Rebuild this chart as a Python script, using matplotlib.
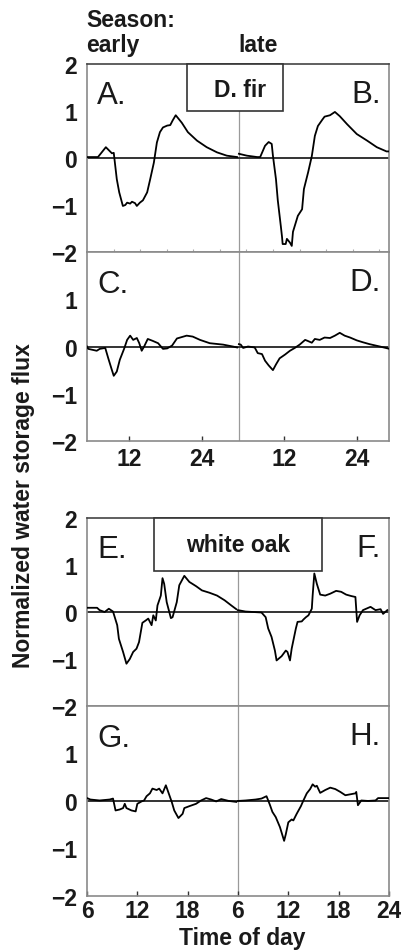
import numpy as np
import matplotlib.pyplot as plt
from matplotlib.patches import Rectangle

plt.rcParams['font.family'] = ['Liberation Sans', 'DejaVu Sans']

# ---- D. fir, early season (A) and late season (B): normalized flux vs hour ----
a_hour = [5.1, 6.9, 8.2, 9.2, 9.5, 10.0, 10.4, 11.0, 11.4, 11.7, 12.2, 12.5, 13.0, 13.3,
          13.8, 14.3, 15.0, 15.5, 16.1, 16.6, 17.1, 17.6, 18.3, 18.8, 19.2, 19.7, 20.7,
          21.7, 23.2, 24.8, 26.5, 28.1, 29.8]
a_flux = [0.02, 0.02, 0.23, 0.10, 0.11, -0.45, -0.73, -1.02, -1.0, -0.95, -0.97, -0.93,
          -0.96, -1.02, -0.95, -0.9, -0.73, -0.45, -0.1, 0.33, 0.55, 0.65, 0.69, 0.7, 0.8,
          0.91, 0.75, 0.55, 0.37, 0.23, 0.12, 0.05, 0.02]

b_hour = [4.5, 5.8, 7.5, 8.0, 8.8, 9.4, 9.9, 10.1, 10.6, 10.9, 11.4, 11.6, 11.7, 12.2,
          12.4, 12.9, 13.2, 13.4, 14.2, 14.9, 15.2, 15.9, 16.5, 17.0, 17.5, 18.2, 18.6,
          19.5, 20.3, 21.1, 22.3, 23.9, 25.6, 27.2, 28.8, 29.3]
b_flux = [0.09, 0.05, 0.02, 0.02, 0.26, 0.34, 0.3, 0.05, -0.45, -0.9, -1.45, -1.68, -1.83,
          -1.83, -1.72, -1.8, -1.87, -1.57, -1.23, -1.09, -0.66, -0.3, 0.04, 0.47, 0.68,
          0.81, 0.88, 0.91, 0.98, 0.89, 0.72, 0.51, 0.37, 0.23, 0.14, 0.14]

# ---- D. fir, second row (C early, D late) ----
c_hour = [5.1, 5.3, 6.7, 7.2, 8.1, 8.6, 9.2, 9.5, 10.0, 10.5, 11.2, 11.7, 12.2, 12.7, 13.3,
          13.7, 14.1, 14.5, 15.1, 15.9, 16.8, 17.6, 18.3, 19.1, 19.9, 21.5, 22.5, 23.7,
          25.3, 27.5, 29.1, 29.8]
c_flux = [0.0, -0.05, -0.09, -0.05, -0.03, -0.25, -0.5, -0.62, -0.53, -0.28, -0.05, 0.14,
          0.23, 0.14, 0.18, 0.07, -0.09, 0.0, 0.16, 0.12, 0.07, -0.05, -0.04, 0.02, 0.17,
          0.23, 0.21, 0.14, 0.07, 0.04, 0.0, -0.02]

d_hour = [4.5, 4.8, 5.2, 6.0, 7.1, 7.6, 8.3, 8.8, 9.4, 10.1, 10.6, 11.2, 12.1, 12.9, 13.7,
          14.5, 15.4, 15.8, 16.5, 17.0, 17.8, 18.6, 19.5, 20.3, 21.1, 21.9, 22.8, 23.9,
          24.9, 26.0, 27.7, 29.3]
d_flux = [0.05, 0.04, -0.03, 0.0, -0.02, -0.14, -0.16, -0.3, -0.4, -0.5, -0.38, -0.25,
          -0.17, -0.09, -0.03, 0.04, 0.14, 0.12, 0.08, 0.16, 0.14, 0.19, 0.18, 0.23, 0.29,
          0.23, 0.19, 0.13, 0.09, 0.05, 0.0, -0.05]

# ---- white oak (E early, F late) ----
e_hour = [6.0, 7.2, 7.5, 8.1, 8.6, 9.1, 9.6, 9.8, 10.3, 10.7, 11.1, 11.5, 11.9, 12.2, 12.6,
          13.0, 13.3, 13.7, 13.9, 14.2, 14.4, 14.8, 15.0, 15.2, 15.5, 16.0, 16.2, 16.7,
          17.0, 17.6, 18.2, 19.0, 19.7, 20.6, 21.5, 22.4, 23.2, 23.8]
e_flux = [0.09, 0.09, 0.04, 0.0, 0.07, 0.01, -0.28, -0.57, -0.85, -1.1, -1.0, -0.85, -0.78,
          -0.64, -0.23, -0.18, -0.14, -0.28, -0.07, -0.18, 0.14, 0.35, 0.72, 0.6, 0.21,
          -0.13, -0.11, 0.21, 0.57, 0.77, 0.64, 0.55, 0.46, 0.41, 0.35, 0.25, 0.14, 0.06]

f_hour = [6.0, 6.9, 8.8, 9.3, 9.6, 10.0, 10.4, 10.6, 11.2, 11.7, 11.9, 12.2, 12.4, 12.9,
          13.1, 13.6, 13.8, 14.1, 14.4, 14.8, 14.9, 15.1, 15.4, 15.8, 16.4, 17.0, 17.7,
          18.3, 18.9, 19.5, 20.0, 20.2, 20.5, 20.9, 21.8, 22.4, 23.0, 23.3, 23.8]
f_flux = [0.04, 0.01, -0.01, -0.11, -0.35, -0.53, -0.82, -1.03, -0.94, -0.82, -0.85, -1.03,
          -0.78, -0.35, -0.21, -0.2, -0.16, -0.11, -0.07, 0.07, 0.35, 0.82, 0.6, 0.37, 0.35,
          0.39, 0.45, 0.43, 0.37, 0.34, 0.32, -0.21, -0.07, 0.04, 0.11, 0.04, 0.06, -0.04,
          0.04]

# ---- white oak, second row (G early, H late) ----
g_hour = [6.0, 6.4, 7.5, 8.7, 9.1, 9.4, 9.9, 10.3, 10.5, 10.7, 11.3, 11.8, 12.0, 12.5, 12.8,
          13.1, 13.5, 13.8, 14.3, 14.6, 15.0, 15.4, 15.6, 16.1, 16.4, 16.9, 17.4, 17.6,
          18.2, 19.0, 19.6, 20.2, 20.8, 21.4, 22.0, 22.9, 23.8]
g_flux = [0.06, 0.03, 0.01, 0.03, 0.05, -0.2, -0.18, -0.15, -0.06, -0.15, -0.2, -0.22,
          -0.06, -0.01, 0.01, 0.1, 0.16, 0.26, 0.23, 0.26, 0.16, 0.33, 0.23, -0.02, -0.2,
          -0.36, -0.27, -0.15, -0.11, -0.06, 0.01, 0.06, 0.03, -0.01, 0.04, 0.0, -0.02]

h_hour = [6.0, 6.9, 8.1, 8.8, 9.4, 9.8, 10.1, 10.5, 11.0, 11.5, 11.7, 12.0, 12.4, 12.6,
          13.0, 13.5, 13.8, 14.2, 14.6, 14.9, 15.2, 15.4, 15.8, 16.4, 17.0, 17.6, 18.2,
          18.8, 19.4, 20.0, 20.1, 20.3, 20.7, 21.5, 22.4, 22.7, 23.9]
h_flux = [0.0, 0.01, 0.03, 0.05, 0.1, -0.08, -0.23, -0.34, -0.55, -0.84, -0.7, -0.45, -0.39,
          -0.41, -0.27, -0.11, 0.01, 0.16, 0.25, 0.35, 0.3, 0.32, 0.17, 0.23, 0.28, 0.25,
          0.19, 0.12, 0.14, 0.16, 0.19, -0.09, 0.01, 0.0, 0.01, 0.06, 0.06]

# x layout of each group: axis limits, shift of the late panel, divider position
fir_xlim = (5.1, 54.8)
fir_shift = 25.6          # late hours are drawn at hour + shift
fir_divider = 30.1
oak_xlim = (6.0, 42.0)
oak_shift = 18.0
oak_divider = 24.0

fir_ticks = [12, 24]
oak_ticks = [6, 12, 18]

fig = plt.figure(figsize=(4.01, 9.53), dpi=100)

L, W = 0.217, 0.753
rows = [
    (0.7345, 0.1973),   # A/B
    (0.5362, 0.1983),   # C/D
    (0.2581, 0.1973),   # E/F
    (0.0588, 0.1994),   # G/H
]
axes = [fig.add_axes([L, b, W, h]) for b, h in rows]

panels = [
    (a_hour, a_flux, b_hour, b_flux, "A.", "B.", fir_xlim, fir_shift, fir_divider),
    (c_hour, c_flux, d_hour, d_flux, "C.", "D.", fir_xlim, fir_shift, fir_divider),
    (e_hour, e_flux, f_hour, f_flux, "E.", "F.", oak_xlim, oak_shift, oak_divider),
    (g_hour, g_flux, h_hour, h_flux, "G.", "H.", oak_xlim, oak_shift, oak_divider),
]

tick_kw = dict(fontsize=16.5, fontweight="bold", color="#1a1a1a")

for i, (ax, (xe, ye, xl, yl, lab_e, lab_l, xlim, shift, div)) in enumerate(zip(axes, panels)):
    ax.plot(xe, ye, color="black", lw=1.3, zorder=3)
    ax.plot(np.array(xl) + shift, yl, color="black", lw=1.3, zorder=3)
    ax.axhline(0, color="#333333", lw=1.4, zorder=2)
    ax.axvline(div, color="#9a9a9a", lw=0.9, zorder=1)
    ax.set_xlim(*xlim)
    ax.set_ylim(-2, 2)

    for sp in ax.spines.values():
        sp.set_color("#8a8a8a")
        sp.set_linewidth(1.2)
    if i in (0, 2):
        ax.spines["top"].set_color("#444444")

    # y ticks: the upper row of each group carries the "2"
    yt = [-2, -1, 0, 1, 2] if i in (0, 2) else [-2, -1, 0, 1]
    ax.set_yticks(yt)
    ax.set_yticklabels([str(v).replace("-", "\u2212") for v in yt], **tick_kw)
    ax.tick_params(axis="y", length=0, pad=7)

    ax.text(0.034, 0.79, lab_e, transform=ax.transAxes, fontsize=22.5, ha="left",
            va="baseline", color="#1a1a1a")
    ax.text(0.972, 0.80, lab_l, transform=ax.transAxes, fontsize=22.5, ha="right",
            va="baseline", color="#1a1a1a")

# x ticks: only the lower row of each group is labelled
for ax, base, shift, pad in [(axes[1], fir_ticks, fir_shift, 4.3),
                             (axes[3], oak_ticks, oak_shift, 2.0)]:
    pos = list(base) + [t + shift for t in base]
    labels = [str(t) for t in base] * 2
    if ax is axes[3]:
        pos.append(24 + shift)
        labels.append("24")
    ax.set_xticks(pos)
    ax.set_xticklabels(labels, **tick_kw)
    ax.tick_params(axis="x", direction="in", length=3.5, width=1, color="#333333", pad=pad)

for ax in (axes[0], axes[2]):
    ax.set_xticks([])
axes[0].set_xticks(np.arange(9.5, 54.8, 4.37), minor=True)
axes[0].tick_params(axis="x", which="minor", direction="in", length=2.5, width=0.8,
                    color="#aaaaaa")

# species boxes
for ax, (x0, y0, x1), label, tx, ty in [
        (axes[0], (0.331, 0.75, 0.649), "D. fir", 0.507, 0.83),
        (axes[2], (0.222, 0.718, 0.778), "white oak", 0.502, 0.824)]:
    ax.add_patch(Rectangle((x0, y0), x1 - x0, 1 - y0, transform=ax.transAxes,
                           facecolor="white", edgecolor="#333333", lw=1.2, zorder=5,
                           clip_on=False))
    ax.text(tx, ty, label, transform=ax.transAxes, ha="center", va="baseline",
            fontsize=16.5, fontweight="bold", color="#1a1a1a", zorder=6)

hdr = dict(fontsize=16.5, fontweight="bold", color="#1a1a1a", va="baseline")
fig.text(0.2145, 0.9717, "Season:", ha="left", **hdr)
fig.text(0.2145, 0.9454, "early", ha="left", **hdr)
fig.text(0.5935, 0.9454, "late", ha="left", **hdr)
fig.text(0.604, 0.0084, "Time of day", ha="center", **hdr)
fig.text(0.058, 0.469, "Normalized water storage flux", rotation=90, ha="center",
         va="center", fontsize=16.5, fontweight="bold", color="#1a1a1a")

fig.savefig("out.png", dpi=100)
